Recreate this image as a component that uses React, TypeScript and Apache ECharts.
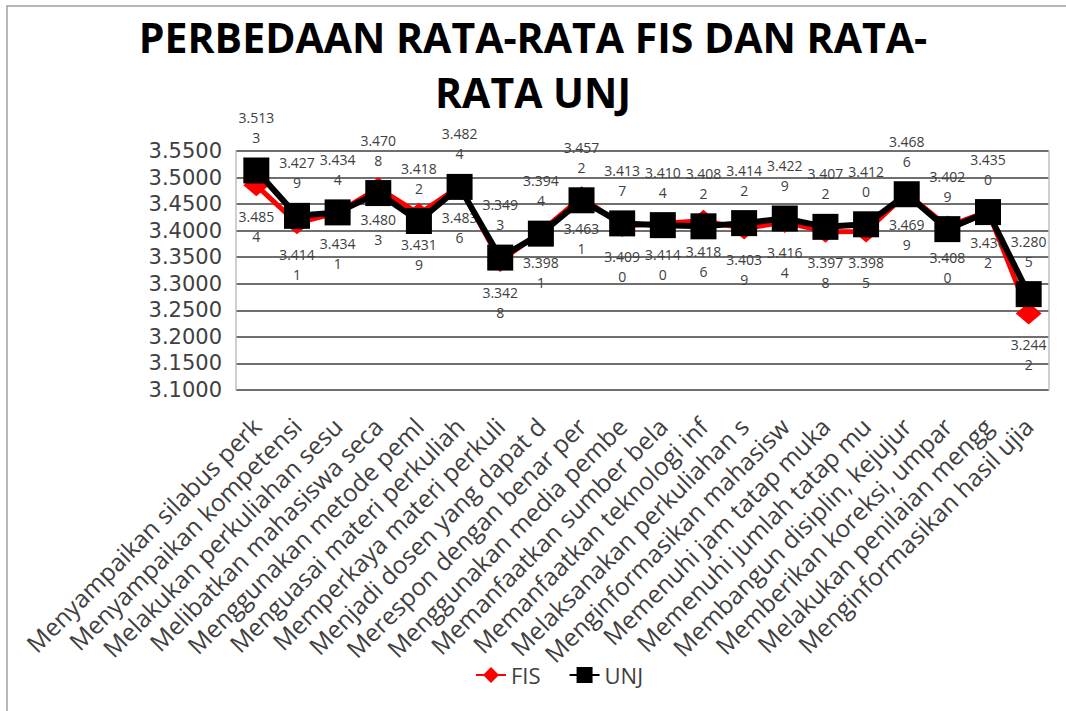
import React, { useEffect, useRef } from "react";
import * as echarts from "echarts";

const categories = [
  "Menyampaikan silabus perk",
  "Menyampaikan kompetensi",
  "Melakukan perkuliahan sesu",
  "Melibatkan mahasiswa seca",
  "Menggunakan metode peml",
  "Menguasai materi perkuliah",
  "Memperkaya materi perkuli",
  "Menjadi dosen yang dapat d",
  "Merespon dengan benar per",
  "Menggunakan media pembe",
  "Memanfaatkan sumber bela",
  "Memanfaatkan teknologi inf",
  "Melaksanakan perkuliahan s",
  "Menginformasikan mahasisw",
  "Memenuhi jam tatap muka",
  "Memenuhi jumlah tatap mu",
  "Membangun disiplin, kejujur",
  "Memberikan koreksi, umpar",
  "Melakukan penilaian mengg",
  "Menginformasikan hasil ujia",
];

const fisValues = [
  3.4854, 3.4141, 3.4341, 3.4803, 3.4319, 3.4836, 3.3428, 3.3981, 3.4631, 3.409,
  3.414, 3.4186, 3.4039, 3.4164, 3.3978, 3.3985, 3.4699, 3.408, 3.4362, 3.2442,
];

const unjValues = [
  3.5133, 3.4279, 3.4344, 3.4708, 3.4182, 3.4824, 3.3493, 3.3944, 3.4572, 3.4137,
  3.4104, 3.4082, 3.4142, 3.4229, 3.4072, 3.412, 3.4686, 3.4029, 3.435, 3.2805,
];

const yTicks = { min: 3.1, max: 3.55, interval: 0.05 };

const fmt = (p: any) => {
  const s = Number(p.value).toFixed(4);
  return s.slice(0, 5) + "\n" + s.slice(5);
};

export default function App() {
  const ref = useRef<HTMLDivElement>(null);
  useEffect(() => {
    document.body.style.margin = "0";
    const chart = echarts.init(ref.current!, null, { renderer: "svg" });
    const font = "'Open Sans', sans-serif";
    chart.setOption({
      animation: false,
      backgroundColor: "#ffffff",
      textStyle: { fontFamily: font },
      title: {
        text: "PERBEDAAN RATA-RATA FIS DAN RATA-\nRATA UNJ",
        left: "center",
        top: 4,
        textStyle: {
          fontFamily: font,
          fontWeight: "bold",
          fontSize: 41,
          lineHeight: 55,
          color: "#000000",
        },
      },
      graphic: [
        {
          type: "rect",
          shape: { x: 7, y: 6, width: 1200, height: 900 },
          style: { fill: "none", stroke: "#a0a0a0", lineWidth: 1.5 },
          silent: true,
          z: -1,
        },
      ],
      legend: {
        bottom: 20,
        left: 470,
        itemWidth: 30,
        itemHeight: 20,
        itemGap: 28,
        textStyle: { fontSize: 22, color: "#404040", fontFamily: font },
        data: ["FIS", "UNJ"],
      },
      grid: { left: 236, right: 17, top: 151, bottom: 321, containLabel: false },
      xAxis: {
        type: "category",
        data: categories,
        boundaryGap: true,
        axisLine: { show: false },
        axisTick: { show: false },
        axisLabel: {
          rotate: 45,
          interval: 0,
          fontSize: 24.5,
          color: "#404040",
          margin: 32,
          fontFamily: font,
        },
        splitLine: { show: false },
      },
      yAxis: [
        {
          type: "value",
          min: yTicks.min,
          max: yTicks.max,
          interval: yTicks.interval,
          axisLine: { show: true, lineStyle: { color: "#bfbfbf", width: 1.5 } },
          axisTick: { show: false },
          axisLabel: {
            fontSize: 21,
            lineHeight: 24,
            color: "#404040",
            margin: 14,
            formatter: (v: number) => v.toFixed(4),
            fontFamily: "'DejaVu Sans', sans-serif",
          },
          splitLine: { show: true, lineStyle: { color: "#6f6f6f", width: 2 } },
        },
        {
          type: "value",
          position: "right",
          min: yTicks.min,
          max: yTicks.max,
          interval: yTicks.interval,
          axisLine: { show: true, lineStyle: { color: "#bfbfbf", width: 1.5 } },
          axisTick: { show: false },
          axisLabel: { show: false },
          splitLine: { show: false },
        },
      ],
      series: [
        {
          name: "FIS",
          type: "line",
          data: fisValues,
          symbol: "diamond",
          symbolSize: [26, 22],
          lineStyle: { color: "#ff0000", width: 5 },
          itemStyle: { color: "#ff0000" },
          label: {
            show: true,
            position: "bottom",
            distance: 10,
            formatter: fmt,
            fontSize: 14,
            lineHeight: 20,
            color: "#404040",
            fontFamily: font,
          },
          z: 2,
        },
        {
          name: "UNJ",
          type: "line",
          data: unjValues,
          symbol: "rect",
          symbolSize: 26,
          lineStyle: { color: "#000000", width: 6 },
          itemStyle: { color: "#000000" },
          label: {
            show: true,
            position: "top",
            distance: 10,
            formatter: fmt,
            fontSize: 14,
            lineHeight: 20,
            color: "#404040",
            fontFamily: font,
          },
          z: 3,
        },
      ],
    });
    return () => chart.dispose();
  }, []);
  return <div ref={ref} style={{ width: 1066, height: 711 }} />;
}
